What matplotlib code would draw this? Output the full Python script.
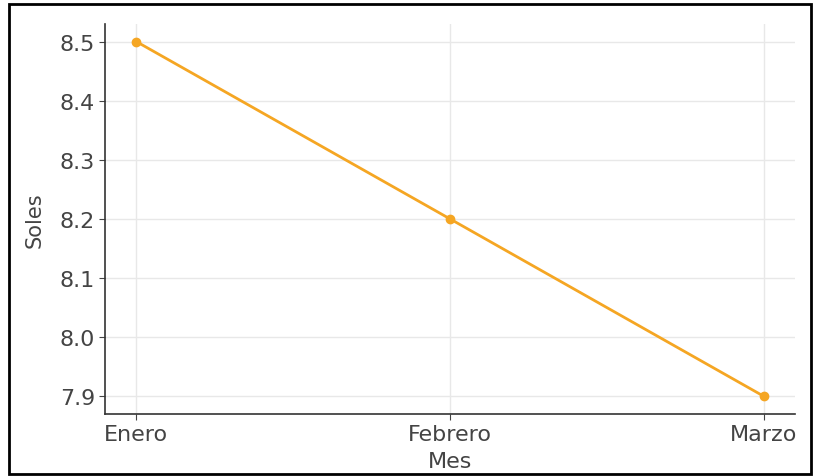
import matplotlib.pyplot as plt
from matplotlib.patches import Rectangle

meses = ["Enero", "Febrero", "Marzo"]
soles = [8.5, 8.2, 7.9]

fig = plt.figure(figsize=(8.13, 4.77), dpi=100)
ax = fig.add_axes([0.129, 0.130, 0.849, 0.818])

ax.plot(meses, soles, color="#f5a623", linewidth=2, marker="o", markersize=6)

ax.set_yticks([7.9, 8.0, 8.1, 8.2, 8.3, 8.4, 8.5])
ax.set_xlabel("Mes", fontsize=16, color="#444444", labelpad=5)
ax.set_ylabel("Soles", fontsize=15, color="#444444", labelpad=11)
ax.tick_params(labelsize=16, colors="#444444", length=4, pad=3)
ax.grid(True, color="#e8e8e8", linewidth=1)
ax.set_axisbelow(True)
for s in ["top", "right"]:
    ax.spines[s].set_visible(False)
for s in ["left", "bottom"]:
    ax.spines[s].set_color("#333333")
    ax.spines[s].set_linewidth(1.2)

# outer frame around the whole image
fig.patches.append(Rectangle((0.011, 0.004), 0.986, 0.985, transform=fig.transFigure,
                             fill=False, edgecolor="black", linewidth=2))

fig.savefig("out.png", dpi=100)
